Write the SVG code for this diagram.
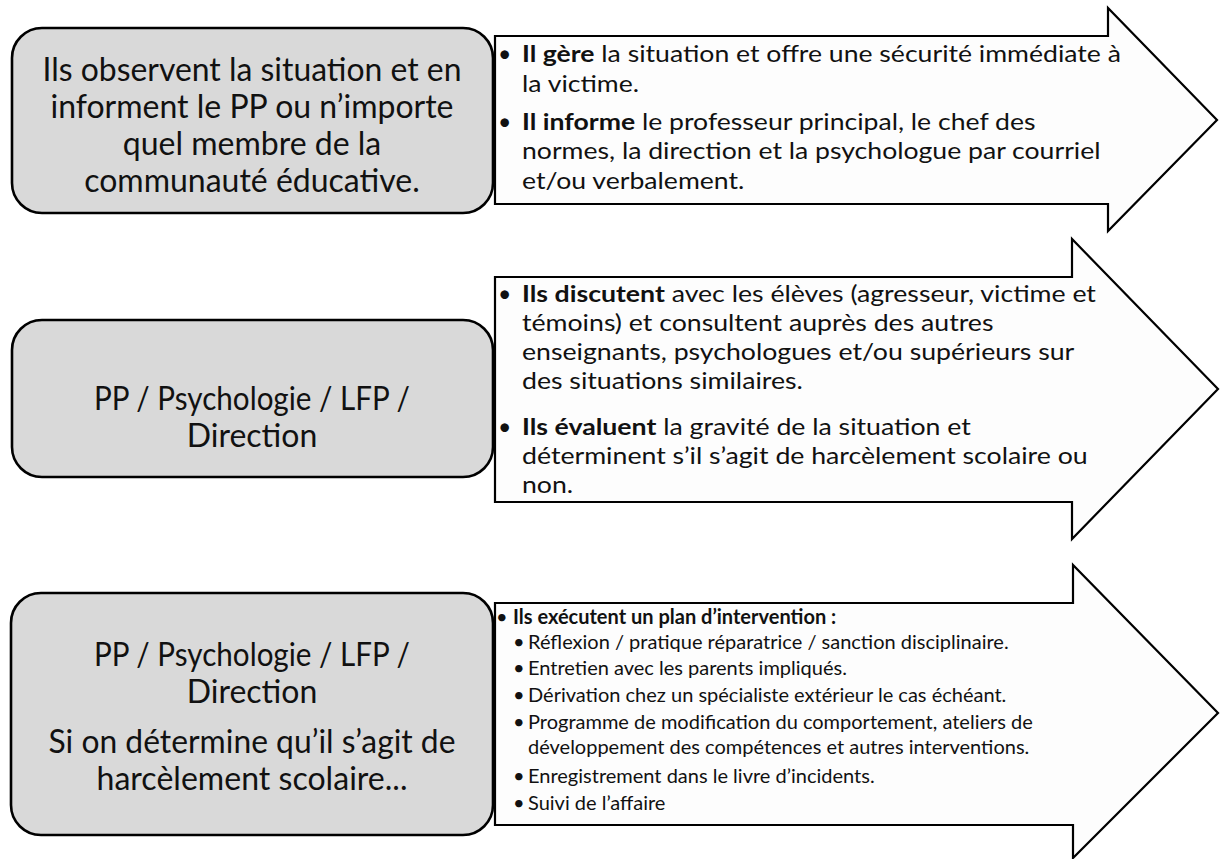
<svg xmlns="http://www.w3.org/2000/svg" width="1220" height="859" viewBox="0 0 1220 859">
<style>
.box{fill:#d9d9d9;stroke:#000;stroke-width:2.6}
.arrow{fill:#fdfdfd;stroke:#000;stroke-width:2.2;stroke-linejoin:miter}
.bt{font-family:Lato,"Liberation Sans",sans-serif;font-size:32px;fill:#111;text-anchor:middle}
.at{font-family:Lato,"Liberation Sans",sans-serif;font-size:23px;fill:#111}
.st{font-family:Lato,"Liberation Sans",sans-serif;font-size:20px;fill:#111}
.b{font-weight:bold}
</style>
<rect width="1220" height="859" fill="#fff"/>
<g id="connectors"/>
<g id="box1">
<rect class="box" x="12" y="28" width="481" height="185" rx="30"/>
<text class="bt" x="252" y="81" textLength="419" lengthAdjust="spacingAndGlyphs">Ils observent la situation et en</text>
<text class="bt" x="252" y="118">informent le PP ou n’importe</text>
<text class="bt" x="252" y="155">quel membre de la</text>
<text class="bt" x="252" y="192">communauté éducative.</text>
</g>
<g id="arrow1">
<path class="arrow" d="M495,36 H1108 V8 L1217,120 L1108,231 V204 H495 Z"/>
<text class="at" x="498" y="62">•</text>
<text class="at" x="498" y="130">•</text>
<g transform="matrix(1.157,0,0,1,-81.95,0)">
<text class="at" x="522" y="62"><tspan class="b">Il gère</tspan> la situation et offre une sécurité immédiate à</text>
<text class="at" x="522" y="92">la victime.</text>
<text class="at" x="522" y="130"><tspan class="b">Il informe</tspan> le professeur principal, le chef des</text>
<text class="at" x="522" y="159">normes, la direction et la psychologue par courriel</text>
<text class="at" x="522" y="189">et/ou verbalement.</text>
</g>
</g>
<g id="box2">
<rect class="box" x="12" y="320" width="481" height="157" rx="30"/>
<text class="bt" x="252" y="410" textLength="316" lengthAdjust="spacingAndGlyphs">PP / Psychologie / LFP /</text>
<text class="bt" x="252" y="447">Direction</text>
</g>
<g id="arrow2">
<path class="arrow" d="M495,277 H1072 V239 L1218,389 L1072,539 V502 H495 Z"/>
<text class="at" x="498" y="302">•</text>
<text class="at" x="498" y="435">•</text>
<g transform="matrix(1.16,0,0,1,-83.52,0)">
<text class="at" x="522" y="302"><tspan class="b">Ils discutent</tspan> avec les élèves (agresseur, victime et</text>
<text class="at" x="522" y="331">témoins) et consultent auprès des autres</text>
<text class="at" x="522" y="360">enseignants, psychologues et/ou supérieurs sur</text>
<text class="at" x="522" y="389">des situations similaires.</text>
<text class="at" x="522" y="435"><tspan class="b">Ils évaluent</tspan> la gravité de la situation et</text>
<text class="at" x="522" y="464">déterminent s’il s’agit de harcèlement scolaire ou</text>
<text class="at" x="522" y="493">non.</text>
</g>
</g>
<g id="box3">
<rect class="box" x="11" y="593" width="482" height="242" rx="30"/>
<text class="bt" x="252" y="666" textLength="316" lengthAdjust="spacingAndGlyphs">PP / Psychologie / LFP /</text>
<text class="bt" x="252" y="703">Direction</text>
<text class="bt" x="252" y="753" textLength="407" lengthAdjust="spacingAndGlyphs">Si on détermine qu’il s’agit de</text>
<text class="bt" x="252" y="790" textLength="311" lengthAdjust="spacingAndGlyphs">harcèlement scolaire...</text>
</g>
<g id="arrow3">
<path class="arrow" d="M495,603 H1073 V565 L1218,713 L1073,858 V825 H495 Z"/>
<text class="st" x="496" y="624">•</text>
<text class="st b" x="513" y="624">Ils exécutent un plan d’intervention :</text>
<text class="st" x="513" y="649">•</text>
<text class="st" x="528" y="649">Réflexion / pratique réparatrice / sanction disciplinaire.</text>
<text class="st" x="513" y="675">•</text>
<text class="st" x="528" y="675">Entretien avec les parents impliqués.</text>
<text class="st" x="513" y="702">•</text>
<text class="st" x="528" y="702">Dérivation chez un spécialiste extérieur le cas échéant.</text>
<text class="st" x="513" y="729">•</text>
<text class="st" x="528" y="729">Programme de modification du comportement, ateliers de</text>
<text class="st" x="528" y="754">développement des compétences et autres interventions.</text>
<text class="st" x="513" y="783">•</text>
<text class="st" x="528" y="783">Enregistrement dans le livre d’incidents.</text>
<text class="st" x="513" y="810">•</text>
<text class="st" x="528" y="810">Suivi de l’affaire</text>
</g>
</svg>
